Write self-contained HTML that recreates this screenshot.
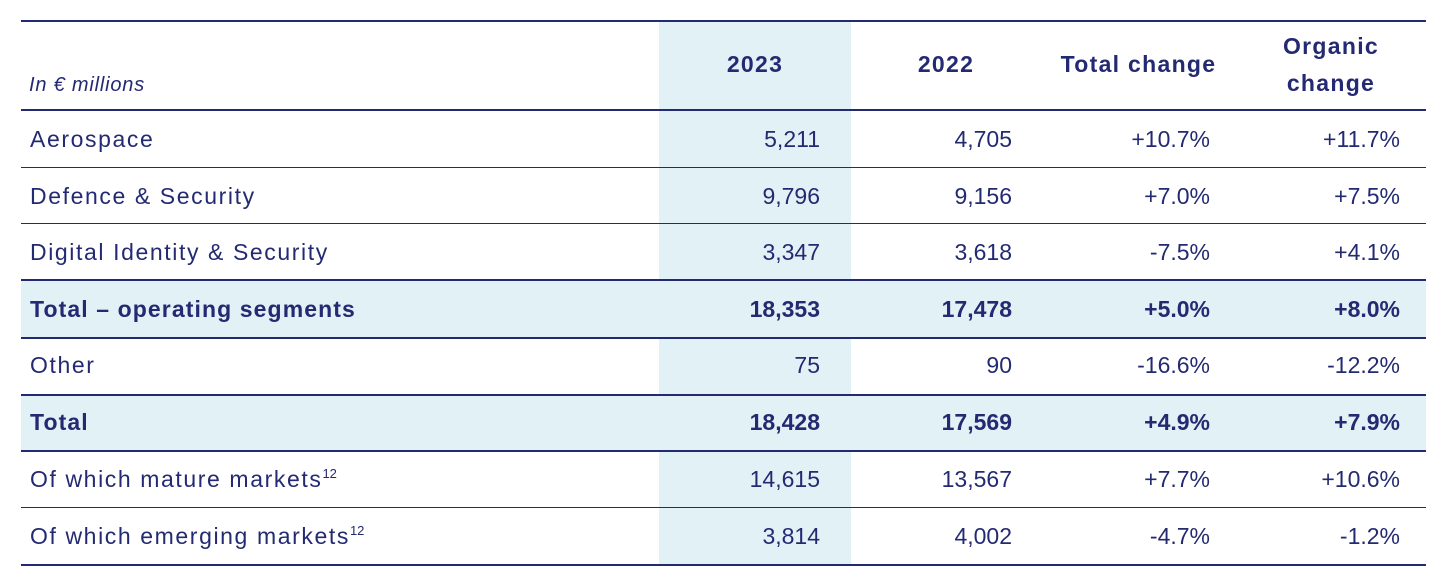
<!DOCTYPE html>
<html><head><meta charset="utf-8"><style>
*{margin:0;padding:0;box-sizing:border-box}
body{width:1442px;height:581px;background:#fff;position:relative;font-family:"Liberation Sans",sans-serif;color:#232a72;overflow:hidden}
.a{position:absolute}
.hl{position:absolute;left:21px;width:1405px;background:#232a72}
.r{position:absolute;left:21px;width:1405px;height:56px;font-size:23px;line-height:56px}
.r span{position:absolute;white-space:nowrap}
.l{left:9px;letter-spacing:1.6px}
.b .l{letter-spacing:1.1px}
.c1{right:606px}.c2{right:414px}.c3{right:216px}.c4{right:26px}
.b{font-weight:bold}
.h{position:absolute;font-size:23px;font-weight:bold;text-align:center;line-height:37px;letter-spacing:1.3px}
sup{font-size:13px;vertical-align:9px;line-height:0;letter-spacing:0}
</style></head><body>
<div class="a" style="left:659px;top:22px;width:192px;height:543px;background:#e2f1f5"></div>
<div class="a" style="left:21px;top:281px;width:1405px;height:57px;background:#e2f1f5"></div>
<div class="a" style="left:21px;top:396px;width:1405px;height:55px;background:#e2f1f5"></div>
<div class="hl" style="top:20px;height:2px"></div>
<div class="hl" style="top:109px;height:2px"></div>
<div class="hl" style="top:167px;height:1px"></div>
<div class="hl" style="top:223px;height:1px"></div>
<div class="hl" style="top:279px;height:2px"></div>
<div class="hl" style="top:337px;height:2px"></div>
<div class="hl" style="top:394px;height:2px"></div>
<div class="hl" style="top:450px;height:2px"></div>
<div class="hl" style="top:507px;height:1px"></div>
<div class="hl" style="top:564px;height:2px"></div>
<div class="a" style="left:29px;top:74px;font-size:20px;font-style:italic;letter-spacing:0.8px">In € millions</div>
<div class="h" style="left:659px;width:192px;top:46px">2023</div>
<div class="h" style="left:851px;width:190px;top:46px">2022</div>
<div class="h" style="left:1041px;width:195px;top:46px">Total change</div>
<div class="h" style="left:1236px;width:190px;top:28px">Organic<br>change</div>
<div class="r" style="top:111px"><span class="l">Aerospace</span><span class="c1">5,211</span><span class="c2">4,705</span><span class="c3">+10.7%</span><span class="c4">+11.7%</span></div>
<div class="r" style="top:168px"><span class="l">Defence &amp; Security</span><span class="c1">9,796</span><span class="c2">9,156</span><span class="c3">+7.0%</span><span class="c4">+7.5%</span></div>
<div class="r" style="top:224px"><span class="l">Digital Identity &amp; Security</span><span class="c1">3,347</span><span class="c2">3,618</span><span class="c3">-7.5%</span><span class="c4">+4.1%</span></div>
<div class="r b" style="top:281px"><span class="l">Total – operating segments</span><span class="c1">18,353</span><span class="c2">17,478</span><span class="c3">+5.0%</span><span class="c4">+8.0%</span></div>
<div class="r" style="top:337px"><span class="l">Other</span><span class="c1">75</span><span class="c2">90</span><span class="c3">-16.6%</span><span class="c4">-12.2%</span></div>
<div class="r b" style="top:394px"><span class="l">Total</span><span class="c1">18,428</span><span class="c2">17,569</span><span class="c3">+4.9%</span><span class="c4">+7.9%</span></div>
<div class="r" style="top:451px"><span class="l">Of which mature markets<sup>12</sup></span><span class="c1">14,615</span><span class="c2">13,567</span><span class="c3">+7.7%</span><span class="c4">+10.6%</span></div>
<div class="r" style="top:508px"><span class="l">Of which emerging markets<sup>12</sup></span><span class="c1">3,814</span><span class="c2">4,002</span><span class="c3">-4.7%</span><span class="c4">-1.2%</span></div>
</body></html>
